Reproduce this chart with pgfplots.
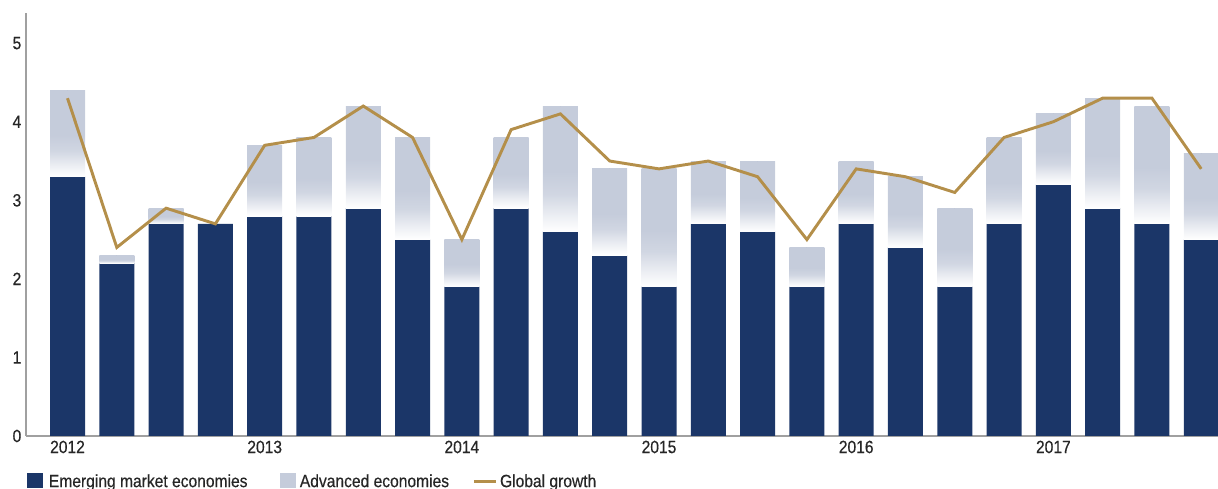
\documentclass[border=0pt]{standalone}
\usepackage{fontspec}
\setmainfont{Liberation Sans}[FakeStretch=0.88, FakeBold=0.4]
\usepackage{pgfplots}
\usepackage{pgfplotstable}
\pgfplotsset{compat=1.18}

\definecolor{emnavy}{HTML}{1B3668}
\definecolor{advgrey}{HTML}{C5CCDB}
\definecolor{gold}{HTML}{B48F4A}
\definecolor{axgrey}{HTML}{A0A0A0}

% grey part fades to white towards its bottom
\pgfdeclareverticalshading{advshade}{100bp}{color(0bp)=(white); color(25bp)=(white); color(30bp)=(advgrey!25!white); color(40bp)=(advgrey!80!white); color(49bp)=(advgrey); color(100bp)=(advgrey)}

% sizes of the axis (pt per unit) used to draw the grey bar pieces
\newcommand\yunit{58.92}  % 317pt / 5.38
\newcommand\halfbar{13.125} % 0.71 * 36.97pt / 2

% quarter, emerging, advanced, global
\pgfplotstableread{
q em adv gl
0 3.3 1.1 4.3
1 2.2 0.1 2.4
2 2.7 0.2 2.9
3 2.7 0.0 2.7
4 2.8 0.9 3.7
5 2.8 1.0 3.8
6 2.9 1.3 4.2
7 2.5 1.3 3.8
8 1.9 0.6 2.5
9 2.9 0.9 3.9
10 2.6 1.6 4.1
11 2.3 1.1 3.5
12 1.9 1.5 3.4
13 2.7 0.8 3.5
14 2.6 0.9 3.3
15 1.9 0.5 2.5
16 2.7 0.8 3.4
17 2.4 0.9 3.3
18 1.9 1.0 3.1
19 2.7 1.1 3.8
20 3.2 0.9 4.0
21 2.9 1.4 4.3
22 2.7 1.5 4.3
23 2.5 1.1 3.4
}\growth

\begin{document}
\begin{tikzpicture}
\begin{axis}[
    scale only axis,
    width=894pt, height=317pt,
    xmin=-0.842, xmax=23.34,
    ymin=0, ymax=5.38,
    axis lines=left,
    axis line style={-, draw=axgrey, line width=0.8pt},
    major tick length=0pt,
    clip marker paths=true,
    xtick={0,4,8,12,16,20},
    xticklabels={2012,2013,2014,2015,2016,2017},
    ytick={0,1,2,3,4,5},
    tick label style={font=\fontsize{13.3}{15}\selectfont, text=black!85},
    /pgf/number format/assume math mode=true,
    legend columns=3,
    legend style={at={(0,0)}, anchor=north west, xshift=0.75pt, yshift=-26.5pt,
      draw=none, fill=none, inner sep=0pt, text=black!85,
      font=\fontsize{13.3}{15}\selectfont,
      /tikz/column 1/.style={column sep=2.25pt},
      /tikz/column 2/.style={column sep=22.25pt},
      /tikz/column 3/.style={column sep=1pt},
      /tikz/column 4/.style={column sep=15.5pt}},
  ]
  % emerging market economies
  \addplot[ybar, bar width=0.71, bar shift=0pt, draw=none, fill=emnavy,
    legend image code/.code={\fill[emnavy] (0pt,-4.5pt) rectangle (12pt,6.5pt);}]
    table[x=q, y=em] {\growth};
  \addlegendentry{Emerging market economies}
  % advanced economies, stacked on top, each piece with its own fade
  \addplot[scatter, only marks, mark=*, mark size=0pt, draw=none, fill=none,
    visualization depends on={\thisrow{adv} \as \advv},
    scatter/@pre marker code/.code={%
      \shade[shading=advshade] (-\halfbar pt,0pt) rectangle (\halfbar pt,{-\advv*\yunit pt});},
    scatter/@post marker code/.code={},
    legend image code/.code={\fill[advgrey] (0pt,-4.5pt) rectangle (12pt,6.5pt);}]
    table[x=q, y expr=\thisrow{em}+\thisrow{adv}] {\growth};
  \addlegendentry{Advanced economies}
  % global growth
  \addplot[gold, line width=2.2pt, mark=none,
    legend image code/.code={\draw[gold, line width=2.2pt] (0pt,0pt) -- (16.5pt,0pt);}]
    table[x=q, y=gl] {\growth};
  \addlegendentry{Global growth}
  \coordinate (bl) at (rel axis cs:0,0);
\end{axis}
\pgfresetboundingbox
\useasboundingbox ([xshift=-19.5pt,yshift=-39.75pt]bl) rectangle ([xshift=894pt,yshift=327pt]bl);
\end{tikzpicture}
\end{document}
